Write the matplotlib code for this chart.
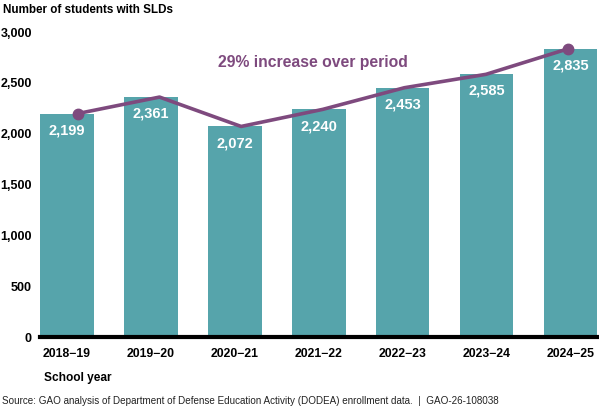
import numpy as np
import matplotlib
matplotlib.use("Agg")
import matplotlib.pyplot as plt

# data
school_years = ["2018\u221219", "2019\u221220", "2020\u221221", "2021\u221222",
                "2022\u221223", "2023\u221224", "2024\u221225"]
students = [2199, 2361, 2072, 2240, 2453, 2585, 2835]
y_ticks = [0, 500, 1000, 1500, 2000, 2500, 3000]

bar_color = "#56A4AB"
line_color = "#7E4A7E"

plt.rcParams["font.family"] = ["Liberation Sans", "DejaVu Sans"]

fig = plt.figure(figsize=(5.99, 4.12), dpi=100)
ax = fig.add_axes([0.067, 0.182, 0.93, 0.74])

x = np.arange(len(school_years))
# the trend line in the original sits on a slightly narrower x scale than the bars
line_x = 0.13 + x * 0.973

ax.bar(x, students, width=0.64, color=bar_color, zorder=1)
ax.plot(line_x, students, color=line_color, linewidth=2.6, zorder=3)
ax.plot([line_x[0], line_x[-1]], [students[0], students[-1]], "o",
        color=line_color, markersize=7.5, zorder=4)

for xi, val in zip(x, students):
    ax.text(xi, val - 95, f"{val:,}", ha="center", va="top", color="white",
            fontsize=10.5, fontweight="bold", zorder=5)

ax.text(2.93, 2700, "29% increase over period", ha="center", va="center",
        color=line_color, fontsize=11.3, fontweight="bold")

ax.set_xlim(-0.32, 6.32)
ax.set_ylim(0, 3000)
ax.set_yticks(y_ticks)
ax.set_yticklabels([f"{t:,}" for t in y_ticks], fontweight="bold", fontsize=9)
ax.set_xticks(x)
ax.set_xticklabels(school_years, fontweight="bold", fontsize=8.8)
ax.tick_params(axis="both", length=0)
ax.tick_params(axis="x", pad=8)
ax.tick_params(axis="y", pad=6)

for side in ["top", "right", "left"]:
    ax.spines[side].set_visible(False)
ax.spines["bottom"].set_linewidth(3)
ax.spines["bottom"].set_color("black")
ax.spines["bottom"].set_zorder(6)

fig.text(0.005, 0.975, "Number of students with SLDs", ha="left", va="center",
         fontsize=8.4, fontweight="bold")
fig.text(0.074, 0.083, "School year", ha="left", va="center",
         fontsize=8.6, fontweight="bold")
fig.text(0.003, 0.027,
         "Source: GAO analysis of Department of Defense Education Activity "
         "(DODEA) enrollment data.  |  GAO-26-108038",
         ha="left", va="center", fontsize=7.15, color="#222222")

fig.savefig("out.png", dpi=100)
